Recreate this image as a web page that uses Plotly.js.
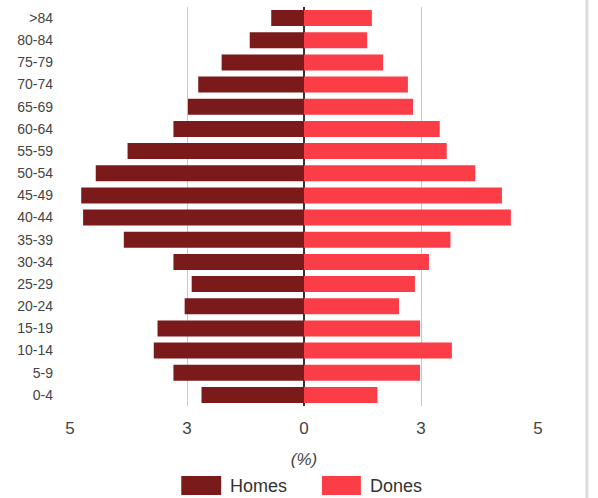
<!DOCTYPE html>
<html>
<head>
<meta charset="utf-8">
<script src="https://cdn.plot.ly/plotly-3.0.1.min.js"></script>
<style>html,body{margin:0;padding:0;background:#fff;}#chart{width:598px;height:498px;}</style>
</head>
<body>
<div id="chart"></div>
<script>
// Age groups, top to bottom
var ages = [">84","80-84","75-79","70-74","65-69","60-64","55-59","50-54","45-49","40-44","35-39","30-34","25-29","20-24","15-19","10-14","5-9","0-4"];
// Percent of population
var homes = [0.70,1.16,1.76,2.26,2.48,2.79,3.77,4.45,4.76,4.72,3.85,2.79,2.40,2.55,3.13,3.21,2.79,2.19];
var dones = [1.45,1.35,1.69,2.22,2.33,2.90,3.05,3.66,4.23,4.42,3.13,2.67,2.37,2.03,2.48,3.16,2.48,1.57];
// Axis ticks and labels (labels as shown in the source)
var xTickVals = [-5,-2.5,0,2.5,5];
var xTickText = ["5","3","0","3","5"];
var seriesNames = ["Homes","Dones"];
var seriesColors = ["#7B1A1A","#FA3D47"];

var font = "Liberation Sans, Arial, sans-serif";

var traces = [
  {type:"bar", orientation:"h", name:seriesNames[0], y:ages,
   x:homes.map(function(v){return -v;}), customdata:homes,
   hovertemplate:"%{y}: %{customdata}%<extra>"+seriesNames[0]+"</extra>",
   marker:{color:seriesColors[0]}, showlegend:false},
  {type:"bar", orientation:"h", name:seriesNames[1], y:ages, x:dones,
   hovertemplate:"%{y}: %{x}%<extra>"+seriesNames[1]+"</extra>",
   marker:{color:seriesColors[1]}, showlegend:false}
];

function px2x(px){return (px-69.5)/469;}
function py2y(py){return (406-py)/399;}

var layout = {
  width:598, height:498,
  margin:{l:69.5, r:59.5, t:7, b:92},
  paper_bgcolor:"#fff", plot_bgcolor:"#fff",
  barmode:"overlay", bargap:0.28,
  font:{family:font, color:"#444"},
  xaxis:{range:[-5,5], tickvals:xTickVals, ticktext:xTickText,
    showgrid:true, gridcolor:"#c8c8c8", gridwidth:1,
    zeroline:true, zerolinecolor:"#333", zerolinewidth:2,
    showline:false, ticks:"", tickfont:{size:17, color:"#444"},
    ticklabelstandoff:10,
    title:{text:"<i>(%)</i>", font:{size:17, color:"#444"}, standoff:16},
    fixedrange:true},
  yaxis:{type:"category", categoryorder:"array", categoryarray:ages,
    autorange:"reversed", showgrid:false, zeroline:false, showline:false,
    ticks:"", tickfont:{size:14, color:"#444"}, ticklabelstandoff:16,
    fixedrange:true},
  shapes:[
    {type:"rect", xref:"paper", yref:"paper", x0:px2x(181), x1:px2x(221), y0:py2y(495), y1:py2y(476),
     fillcolor:seriesColors[0], line:{width:0}},
    {type:"rect", xref:"paper", yref:"paper", x0:px2x(322), x1:px2x(361), y0:py2y(495), y1:py2y(476),
     fillcolor:seriesColors[1], line:{width:0}},
    {type:"line", xref:"paper", yref:"paper", x0:px2x(587.5), x1:px2x(587.5), y0:py2y(498), y1:py2y(0),
     line:{color:"#dddddd", width:3}}
  ],
  annotations:[
    {xref:"paper", yref:"paper", x:px2x(228), y:py2y(485.5), xanchor:"left", yanchor:"middle",
     text:seriesNames[0], showarrow:false, font:{size:18, color:"#333"}},
    {xref:"paper", yref:"paper", x:px2x(368), y:py2y(485.5), xanchor:"left", yanchor:"middle",
     text:seriesNames[1], showarrow:false, font:{size:18, color:"#333"}}
  ]
};

Plotly.newPlot("chart", traces, layout, {displayModeBar:false, staticPlot:false});
</script>
</body>
</html>
